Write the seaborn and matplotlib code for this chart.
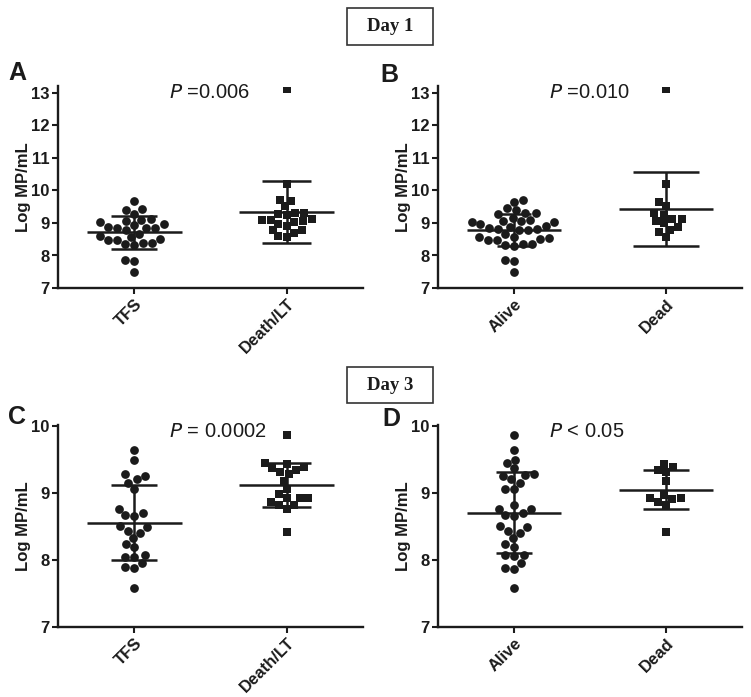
import numpy as np
import pandas as pd
import matplotlib
matplotlib.use("Agg")
import matplotlib.pyplot as plt
from matplotlib.patches import Rectangle
import seaborn as sns

sns.set_theme(style="ticks")
plt.rcParams['font.family'] = ['Liberation Sans', 'DejaVu Sans']

# ---------------- data ----------------
cats_outcome = ["TFS", "Death/LT"]
cats_survival = ["Alive", "Dead"]

day1_tfs = [8.59, 9.41, 8.88, 8.52, 9.13, 8.84, 8.49, 9.07, 8.38, 8.85, 8.97, 9.67,
            8.66, 8.31, 7.87, 7.84, 7.49, 9.10, 8.79, 8.35, 9.29, 8.85, 8.38, 9.44,
            8.93, 8.49, 9.02, 8.56]
day1_death = [9.31, 9.28, 9.12, 9.10, 8.79, 8.69, 9.72, 10.21, 9.51, 9.02, 8.98,
              8.56, 8.59, 9.69, 9.05, 8.79, 9.10, 8.90, 9.26, 9.31, 13.13]
day1_alive = [9.45, 9.02, 8.56, 8.91, 9.30, 8.51, 8.89, 8.48, 9.28, 8.79, 8.36, 9.08,
              9.71, 8.81, 8.28, 9.05, 8.66, 8.33, 7.87, 9.66, 7.82, 7.49, 8.81, 9.06,
              8.35, 8.79, 9.15, 8.48, 8.84, 9.30, 8.96, 8.53, 9.40, 9.02, 8.56]
day1_dead = [9.30, 9.12, 8.79, 9.51, 9.05, 8.56, 10.20, 9.66, 8.71, 8.99, 8.89,
             9.12, 9.25, 13.13]
day3_tfs = [9.64, 9.50, 9.28, 9.26, 9.21, 9.16, 9.06, 8.77, 8.67, 8.70, 8.66, 8.50,
            8.51, 8.41, 8.33, 8.44, 8.20, 8.24, 8.05, 8.05, 8.08, 7.96, 7.89, 7.88,
            7.59]
day3_death = [9.87, 9.44, 9.35, 9.38, 9.29, 9.39, 9.45, 9.32, 9.18, 9.06, 8.99,
              8.93, 8.87, 8.83, 8.77, 8.83, 8.93, 8.93, 8.42]
day3_alive = [9.87, 9.64, 9.50, 9.45, 9.37, 9.27, 9.26, 9.29, 9.21, 9.16, 9.06, 9.06,
              8.83, 8.77, 8.67, 8.70, 8.66, 8.77, 8.51, 8.50, 8.41, 8.33, 8.44, 8.20,
              8.24, 8.06, 8.07, 8.08, 7.96, 7.88, 7.87, 7.59]
day3_dead = [9.44, 9.35, 9.39, 9.32, 9.18, 8.98, 8.92, 8.87, 8.83, 8.93, 8.93, 8.42]

# mean and SD lines as drawn in the figure
mean_A = [8.71, 9.34]; sd_A = [0.505, 0.96]
mean_B = [8.79, 9.44]; sd_B = [0.485, 1.14]
mean_C = [8.56, 9.12]; sd_C = [0.56, 0.33]
mean_D = [8.71, 9.05]; sd_D = [0.60, 0.29]

p_texts = ["=0.006", "=0.010", "= 0.0002", "< 0.05"]
panel_letters = ["A", "B", "C", "D"]
day_titles = ["Day 1", "Day 3"]
yticks_day1 = [7, 8, 9, 10, 11, 12, 13]
yticks_day3 = [7, 8, 9, 10]

INK = "#1b1b1b"

fig = plt.figure(figsize=(7.51, 6.97), dpi=100)
W, H = 751, 697


def ax_rect(x0, x1, ytop, ybot):
    return [x0 / W, 1 - ybot / H, (x1 - x0) / W, (ybot - ytop) / H]


panels = [
    dict(rect=ax_rect(58, 363, 86.5, 288), cats=cats_outcome, g1=day1_tfs, g2=day1_death,
         mean=mean_A, sd=sd_A, ylim=(7, 13.2), yticks=yticks_day1, cap=[0.15, 0.16], ptext_y=13.0),
    dict(rect=ax_rect(438, 742, 86.5, 288), cats=cats_survival, g1=day1_alive, g2=day1_dead,
         mean=mean_B, sd=sd_B, ylim=(7, 13.2), yticks=yticks_day1, cap=[0.11, 0.22], ptext_y=13.0),
    dict(rect=ax_rect(58, 363, 425, 627), cats=cats_outcome, g1=day3_tfs, g2=day3_death,
         mean=mean_C, sd=sd_C, ylim=(7, 10.02), yticks=yticks_day3, cap=[0.15, 0.16], ptext_y=9.93),
    dict(rect=ax_rect(438, 742, 425, 627), cats=cats_survival, g1=day3_alive, g2=day3_dead,
         mean=mean_D, sd=sd_D, ylim=(7, 10.02), yticks=yticks_day3, cap=[0.12, 0.15], ptext_y=9.93),
]

for i, p in enumerate(panels):
    ax = fig.add_axes(p["rect"])
    df1 = pd.DataFrame({"group": p["cats"][0], "value": p["g1"]})
    df2 = pd.DataFrame({"group": p["cats"][1], "value": p["g2"]})
    sns.swarmplot(data=df1, x="group", y="value", order=p["cats"], ax=ax,
                  marker="o", color=INK, size=6.3, linewidth=0)
    sns.swarmplot(data=df2, x="group", y="value", order=p["cats"], ax=ax,
                  marker="s", color=INK, size=6.0, linewidth=0)
    for k in range(2):
        m, s, c = p["mean"][k], p["sd"][k], p["cap"][k]
        ax.hlines(m, k - 0.31, k + 0.31, color=INK, lw=1.8, zorder=5)
        ax.hlines([m - s, m + s], k - c, k + c, color=INK, lw=1.8, zorder=5)
        ax.vlines(k, m - s, m + s, color=INK, lw=1.8, zorder=5)
    ax.set_xlim(-0.5, 1.5)
    ax.set_ylim(*p["ylim"])
    ax.set_yticks(p["yticks"])
    ax.set_yticklabels([str(t) for t in p["yticks"]], fontsize=12, fontweight="bold", color=INK)
    ax.set_xticks([0, 1])
    ax.set_xticklabels(p["cats"], rotation=45, ha="right", rotation_mode="anchor",
                       fontsize=12, fontweight="bold", color=INK)
    ax.set_xlabel("")
    ax.set_ylabel("Log MP/mL", fontsize=12, fontweight="bold", color=INK, labelpad=0)
    for sp in ["top", "right"]:
        ax.spines[sp].set_visible(False)
    for sp in ["left", "bottom"]:
        ax.spines[sp].set_linewidth(1.7)
        ax.spines[sp].set_color(INK)
    ax.tick_params(axis="both", width=1.5, length=4, color=INK, pad=2)
    ax.set_facecolor("none")
    ax.text(0.23, p["ptext_y"], "$\\mathit{P}$ " + p_texts[i], fontsize=14.5, color=INK,
            va="center", ha="left", family=["Liberation Sans", "DejaVu Sans"])

# panel letters
letter_pos = [(8, 73), (380, 75), (8, 417), (382, 419)]
for L, (x, y) in zip(panel_letters, letter_pos):
    fig.text(x / W, 1 - y / H, L, fontsize=18, fontweight="bold", color=INK,
             ha="left", va="center")

# day title boxes
box_specs = [(347, 8, 433, 45), (347, 367, 433, 403)]
for t, (x0, y0, x1, y1) in zip(day_titles, box_specs):
    fig.patches.append(Rectangle((x0 / W, 1 - y1 / H), (x1 - x0) / W, (y1 - y0) / H,
                                 transform=fig.transFigure, fill=False, lw=1.2,
                                 edgecolor="#333333"))
    fig.text((x0 + x1) / 2 / W, 1 - (y0 + y1) / 2 / H, t, fontsize=13.5, fontweight="bold",
             family=["Liberation Serif", "DejaVu Serif"], color=INK, ha="center", va="center")

fig.savefig("out.png", dpi=100)
